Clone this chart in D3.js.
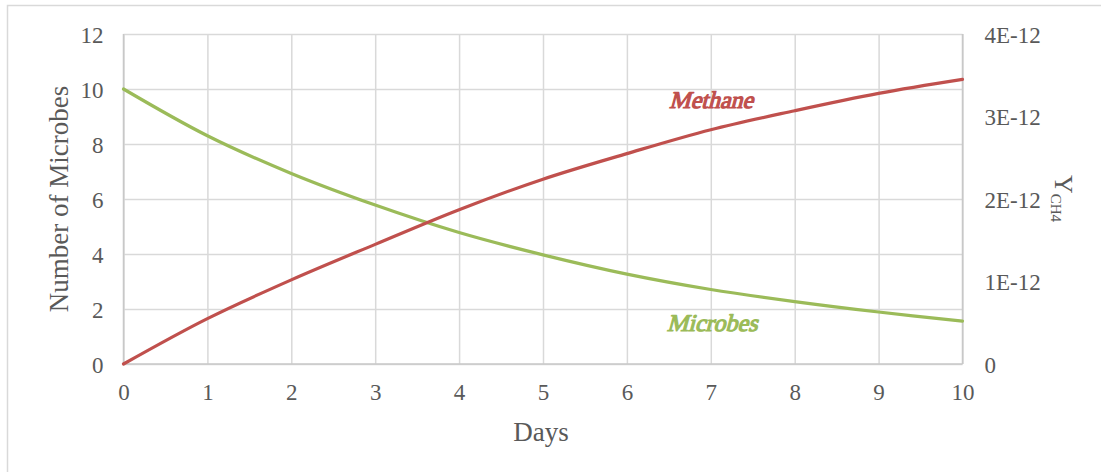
<!DOCTYPE html>
<html>
<head>
<meta charset="utf-8">
<script src="https://cdn.jsdelivr.net/npm/d3@7"></script>
<style>
  html, body { margin: 0; padding: 0; background: #ffffff; }
  svg { display: block; }
</style>
</head>
<body>
<svg id="chart" width="1101" height="472"></svg>
<script>
// Days since start
const days = [0, 1, 2, 3, 4, 5, 6, 7, 8, 9, 10];
// Microbe count per day (left axis)
const microbes = [10, 8.30, 6.93, 5.78, 4.78, 3.97, 3.27, 2.71, 2.27, 1.89, 1.56];
// Methane yield Y_CH4 per day (right axis)
const methane = [0, 0.55e-12, 1.02e-12, 1.45e-12, 1.87e-12, 2.24e-12, 2.55e-12, 2.84e-12, 3.07e-12, 3.28e-12, 3.45e-12];

const xTicks = [0, 1, 2, 3, 4, 5, 6, 7, 8, 9, 10];
const leftTicks = [0, 2, 4, 6, 8, 10, 12];
const rightTicks = [0, 1e-12, 2e-12, 3e-12, 4e-12];
const rightTickLabels = ["0", "1E-12", "2E-12", "3E-12", "4E-12"];

const serif = "'Liberation Serif', 'Times New Roman', serif";
const textColor = "#595959";

const svg = d3.select("#chart")
  .attr("font-family", serif);

// Chart frame
svg.append("rect")
  .attr("x", 7.5).attr("y", 5.5)
  .attr("width", 1110).attr("height", 480)
  .attr("fill", "none").attr("stroke", "#d9d9d9").attr("stroke-width", 1.5);

const plot = { left: 123.5, right: 962.5, top: 34, bottom: 364 };

const x = d3.scaleLinear().domain([0, 10]).range([plot.left, plot.right]);
const yL = d3.scaleLinear().domain([0, 12]).range([plot.bottom, plot.top]);
const yR = d3.scaleLinear().domain([0, 4e-12]).range([plot.bottom, plot.top]);

// Gridlines
const gridColor = "#d9d9d9";
svg.append("g")
  .attr("transform", `translate(0,${plot.bottom})`)
  .call(d3.axisBottom(x).tickValues(xTicks).tickSize(-(plot.bottom - plot.top)).tickFormat(""))
  .call(g => g.select(".domain").remove())
  .call(g => g.selectAll("line").attr("stroke", gridColor).attr("stroke-width", 1.5));

svg.append("g")
  .attr("transform", `translate(${plot.left},0)`)
  .call(d3.axisLeft(yL).tickValues(leftTicks).tickSize(-(plot.right - plot.left)).tickFormat(""))
  .call(g => g.select(".domain").remove())
  .call(g => g.selectAll("line").attr("stroke", gridColor).attr("stroke-width", 1.5));

// Axis lines
const axisColor = "#c8c8c8";
svg.append("line").attr("x1", plot.left).attr("x2", plot.left)
  .attr("y1", plot.top).attr("y2", plot.bottom).attr("stroke", axisColor).attr("stroke-width", 1.5);
svg.append("line").attr("x1", plot.right).attr("x2", plot.right)
  .attr("y1", plot.top).attr("y2", plot.bottom).attr("stroke", axisColor).attr("stroke-width", 1.5);
svg.append("line").attr("x1", plot.left).attr("x2", plot.right)
  .attr("y1", plot.bottom).attr("y2", plot.bottom).attr("stroke", axisColor).attr("stroke-width", 1.5);

// Tick labels
const tickFont = 23;
const styleTicks = g => {
  g.select(".domain").remove();
  g.attr("font-family", serif).attr("font-size", tickFont);
  g.selectAll("text").attr("fill", textColor).style("font-family", serif);
};

svg.append("g")
  .attr("transform", `translate(${plot.left - 20},0)`)
  .call(d3.axisLeft(yL).tickValues(leftTicks).tickSize(0).tickPadding(0))
  .call(styleTicks)
  .call(g => g.selectAll("text").attr("dy", "0.35em").attr("x", 0));

svg.append("g")
  .attr("transform", `translate(${plot.right + 22},0)`)
  .call(d3.axisRight(yR).tickValues(rightTicks).tickSize(0).tickPadding(0)
    .tickFormat((d, i) => rightTickLabels[i]))
  .call(styleTicks)
  .call(g => g.selectAll("text").attr("dy", "0.35em").attr("x", 0));

svg.append("g")
  .attr("transform", `translate(0,${plot.bottom + 20})`)
  .call(d3.axisBottom(x).tickValues(xTicks).tickSize(0).tickPadding(0))
  .call(styleTicks)
  .call(g => g.selectAll("text").attr("dy", "0.71em").attr("y", 0));

// Axis titles
svg.append("text")
  .attr("transform", `translate(68,${(plot.top + plot.bottom) / 2}) rotate(-90)`)
  .attr("text-anchor", "middle")
  .attr("font-size", 27)
  .attr("fill", textColor)
  .text("Number of Microbes");

svg.append("text")
  .attr("x", 541).attr("y", 441)
  .attr("text-anchor", "middle")
  .attr("font-size", 27)
  .attr("fill", textColor)
  .text("Days");

const yTitle = svg.append("text")
  .attr("transform", "translate(1055,175) rotate(90)")
  .attr("font-size", 26)
  .attr("fill", textColor);
yTitle.append("tspan").text("Y");
yTitle.append("tspan").attr("font-size", 15).attr("dy", 4).text("CH4");

// Series lines
const curve = d3.curveCatmullRom.alpha(0.5);

const microbeLine = d3.line()
  .x((d, i) => x(days[i]))
  .y(d => yL(d))
  .curve(curve);

const methaneLine = d3.line()
  .x((d, i) => x(days[i]))
  .y(d => yR(d))
  .curve(curve);

svg.append("path")
  .datum(microbes)
  .attr("d", microbeLine)
  .attr("fill", "none")
  .attr("stroke", "#9bbb59")
  .attr("stroke-width", 3.2)
  .attr("stroke-linecap", "round");

svg.append("path")
  .datum(methane)
  .attr("d", methaneLine)
  .attr("fill", "none")
  .attr("stroke", "#c0504d")
  .attr("stroke-width", 3.2)
  .attr("stroke-linecap", "round");

// Series labels: serif slanted by a skew and thickened with a matching stroke
const seriesLabel = (text, cx, baseline, color) =>
  svg.append("g")
    .attr("transform", `translate(${cx},${baseline}) skewX(-15)`)
    .append("text")
    .attr("x", 0).attr("y", 0)
    .attr("text-anchor", "middle")
    .attr("font-size", 24)
    .style("font-family", "'Liberation Serif', serif")
    .attr("fill", color)
    .attr("stroke", color).attr("stroke-width", 1.2)
    .attr("stroke-linejoin", "round")
    .text(text);

seriesLabel("Methane", 711, 108, "#c0504d");
seriesLabel("Microbes", 712, 331, "#9bbb59");
</script>
</body>
</html>
